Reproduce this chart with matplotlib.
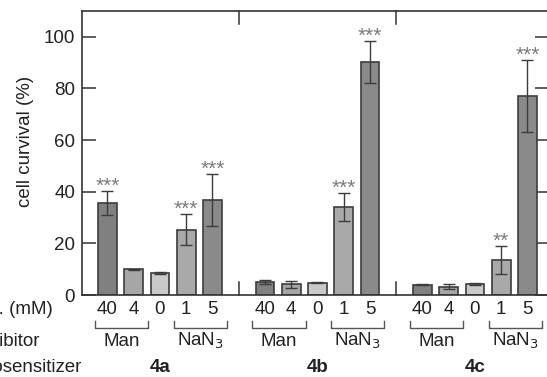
import matplotlib
matplotlib.use("Agg")
import matplotlib.pyplot as plt
import matplotlib.transforms as mtransforms

plt.rcParams['font.family'] = ['Liberation Sans', 'DejaVu Sans']

# ---- data ----
photosensitizers = ["4a", "4b", "4c"]
conc_labels = ["40", "4", "0", "1", "5"]
inhibitors = ["Man", "NaN$_3$"]
values = {
    "4a": [35.5, 9.9, 8.6, 25.3, 36.7],
    "4b": [5.2, 4.1, 4.8, 34.0, 90.3],
    "4c": [4.0, 3.2, 4.3, 13.6, 77.1],
}
errors = {
    "4a": [4.7, 0.3, 0.5, 6.0, 10.0],
    "4b": [0.8, 1.2, 0.3, 5.5, 8.0],
    "4c": [0.3, 1.0, 0.3, 5.3, 14.0],
}
stars = {
    "4a": ["***", "", "", "***", "***"],
    "4b": ["", "", "", "***", "***"],
    "4c": ["", "", "", "**", "***"],
}
bar_colors = ["#808080", "#a6a6a6", "#c9c9c9", "#a9a9a9", "#8a8a8a"]

W, H = 547, 377
FS = 13.5
fig = plt.figure(figsize=(W / 100, H / 100), dpi=100)
L, R, B, T = 82, 549, 295, 11
ax = fig.add_axes([L / W, 1 - B / H, (R - L) / W, (B - T) / H])

edge = "#3c3c3c"
bw = 0.72
for g, ps in enumerate(photosensitizers):
    base = g * 6
    for i in range(5):
        x = base + i
        v = values[ps][i]
        e = errors[ps][i]
        ax.bar(x, v, width=bw, color=bar_colors[i], edgecolor=edge, linewidth=1.2, zorder=2)
        ax.errorbar(x, v, yerr=e, fmt='none', ecolor=edge, elinewidth=1.0,
                    capsize=4.5, capthick=1.0, zorder=3)
        if stars[ps][i]:
            ax.annotate(stars[ps][i], (x, v + e), xytext=(0, -0.5), textcoords='offset points',
                        ha='center', va='baseline', fontsize=15, color='#7a7a7a')

ax.set_xlim(-0.97, 16.82)
ax.set_ylim(0, 110)
ax.set_yticks([0, 20, 40, 60, 80, 100])
ax.set_xticks([])
ax.tick_params(axis='y', direction='in', length=10, width=1.1, labelsize=FS,
               right=True, colors='#333333', labelcolor='#222222', pad=5)
for s in ax.spines.values():
    s.set_color('#333333')
    s.set_linewidth(1.2)

# group separator marks
trans = mtransforms.blended_transform_factory(ax.transData, ax.transAxes)
for xs in [5, 11]:
    ax.plot([xs, xs], [1, 1 - 0.047], transform=trans, color='#333333', lw=1.1, clip_on=False)
    ax.plot([xs, xs], [0, 0.047], transform=trans, color='#333333', lw=1.1, clip_on=False)

# y label
fig.text(25 / W, 1 - 141 / H, "cell curvival (%)", rotation=90, ha='center', va='center',
         fontsize=FS, color='#222222')

# category annotations below
def fy(py):
    return 1 - py / H

tx = mtransforms.blended_transform_factory(ax.transData, fig.transFigure)
for g, ps in enumerate(photosensitizers):
    base = g * 6
    for i, lab in enumerate(conc_labels):
        fig.text(base + i, fy(310), lab, transform=tx, ha='center', va='center',
                 fontsize=FS, color='#222222')
    for (a, b), name in zip([(0, 1), (3, 4)], inhibitors):
        x0, x1 = base + a - 0.48, base + b + 0.55
        line_y0, line_y1 = fy(321), fy(328)
        fig.add_artist(plt.Line2D([x0, x0, x1, x1], [line_y0, line_y1, line_y1, line_y0],
                                  transform=tx, color='#555555', lw=1.0))
        fig.text((x0 + x1) / 2, fy(341), name, transform=tx, ha='center', va='center',
                 fontsize=FS, color='#222222')
    fig.text(base + 2, fy(368), ps, transform=tx, ha='center', va='center',
             fontsize=FS, fontweight='bold', color='#222222')

fig.text(53 / W, fy(310), "conc. (mM)", ha='right', va='center', fontsize=FS, color='#222222')
fig.text(40 / W, fy(341), "inhibitor", ha='right', va='center', fontsize=FS, color='#222222')
fig.text(82 / W, fy(368), "photosensitizer", ha='right', va='center', fontsize=FS, color='#222222')

fig.savefig("out.png", dpi=100)
